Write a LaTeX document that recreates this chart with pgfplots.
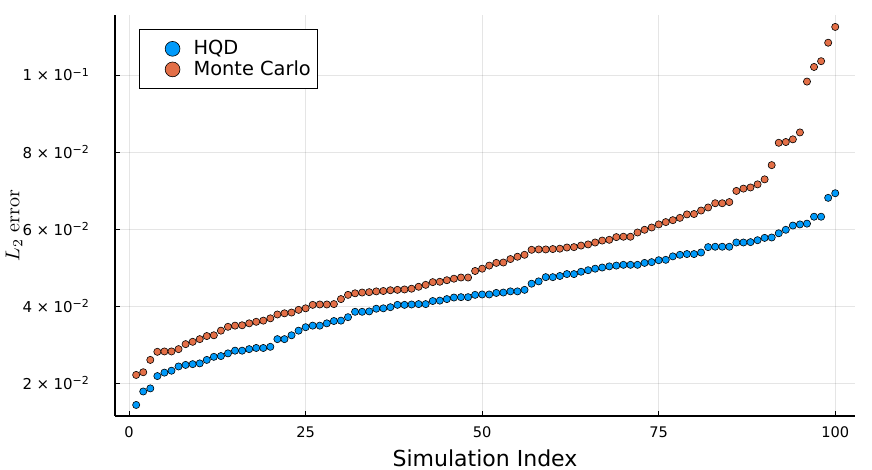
\documentclass[border=0pt]{standalone}
\usepackage[no-math]{fontspec}
\setmainfont{DejaVu Sans}
\usepackage{pgfplots}
\pgfplotsset{compat=1.18}
\usepackage{pgfplotstable}

\definecolor{juliablue}{RGB}{0,154,250}
\definecolor{juliaorange}{RGB}{227,111,71}

% tick label "a x 10^-b" in text font
\newcommand{\sci}[2]{#1\hspace{2.2pt}×\hspace{2.2pt}10\raisebox{0.5ex}{\fontsize{5.5}{6}\selectfont −#2}}

% sorted L2 errors, one row per simulation
\pgfplotstableread{
idx hqd mc
1 0.0143 0.0221
2 0.0178 0.0228
3 0.0186 0.0260
4 0.0218 0.0281
5 0.0227 0.0282
6 0.0232 0.0282
7 0.0243 0.0288
8 0.0247 0.0301
9 0.0249 0.0307
10 0.0251 0.0314
11 0.0260 0.0322
12 0.0268 0.0324
13 0.0270 0.0336
14 0.0277 0.0346
15 0.0284 0.0349
16 0.0284 0.0350
17 0.0288 0.0355
18 0.0291 0.0359
19 0.0291 0.0362
20 0.0294 0.0368
21 0.0314 0.0378
22 0.0314 0.0381
23 0.0324 0.0383
24 0.0336 0.0390
25 0.0345 0.0394
26 0.0349 0.0403
27 0.0349 0.0404
28 0.0355 0.0404
29 0.0361 0.0405
30 0.0362 0.0418
31 0.0371 0.0429
32 0.0385 0.0433
33 0.0385 0.0435
34 0.0386 0.0436
35 0.0393 0.0438
36 0.0394 0.0439
37 0.0397 0.0441
38 0.0403 0.0442
39 0.0403 0.0443
40 0.0404 0.0445
41 0.0405 0.0450
42 0.0405 0.0455
43 0.0413 0.0462
44 0.0414 0.0463
45 0.0418 0.0467
46 0.0422 0.0471
47 0.0423 0.0474
48 0.0423 0.0474
49 0.0429 0.0491
50 0.0430 0.0497
51 0.0430 0.0505
52 0.0434 0.0512
53 0.0435 0.0513
54 0.0438 0.0522
55 0.0438 0.0528
56 0.0442 0.0533
57 0.0458 0.0546
58 0.0464 0.0547
59 0.0475 0.0547
60 0.0475 0.0548
61 0.0478 0.0549
62 0.0483 0.0552
63 0.0483 0.0553
64 0.0489 0.0557
65 0.0493 0.0560
66 0.0497 0.0565
67 0.0500 0.0570
68 0.0503 0.0572
69 0.0505 0.0579
70 0.0507 0.0580
71 0.0507 0.0580
72 0.0507 0.0591
73 0.0512 0.0598
74 0.0514 0.0604
75 0.0519 0.0612
76 0.0520 0.0618
77 0.0529 0.0623
78 0.0533 0.0629
79 0.0535 0.0638
80 0.0535 0.0639
81 0.0539 0.0648
82 0.0553 0.0656
83 0.0554 0.0667
84 0.0554 0.0667
85 0.0554 0.0670
86 0.0565 0.0699
87 0.0565 0.0705
88 0.0566 0.0708
89 0.0571 0.0716
90 0.0577 0.0729
91 0.0578 0.0766
92 0.0589 0.0824
93 0.0598 0.0826
94 0.0609 0.0833
95 0.0612 0.0851
96 0.0614 0.0983
97 0.0632 0.1021
98 0.0632 0.1036
99 0.0681 0.1084
100 0.0693 0.1125
}\errtable

\begin{document}
\begin{tikzpicture}
\path[use as bounding box] (-57.5pt,-27pt) rectangle (378.5pt,208pt);
\begin{axis}[
    scale only axis,
    width=370pt, height=200.5pt,
    at={(0,0)}, anchor=south west,
    xmin=-2, xmax=102.8,
    ymin=0.01143, ymax=0.1156,
    axis lines*=left,
    axis line style={line width=0.7pt, -},
    tick align=inside,
    major tick length=2.5pt,
    tick style={black, line width=0.5pt},
    xtick={0,25,50,75,100},
    xticklabels={0,25,50,75,100},
    ytick={0.02,0.04,0.06,0.08,0.1},
    yticklabels={\sci{2}{2},\sci{4}{2},\sci{6}{2},\sci{8}{2},\sci{1}{1}},
    xticklabel style={font=\fontsize{7.3}{8}\selectfont, yshift=-2pt},
    yticklabel style={font=\fontsize{7.5}{9}\selectfont, xshift=-9.5pt},
    scaled y ticks=false,
    grid=major,
    grid style={black, opacity=0.1, line width=0.5pt},
    xlabel={Simulation Index},
    xlabel style={font=\fontsize{11}{12}\selectfont, at={(axis description cs:0.5,-0.105)}, anchor=center},
    ylabel={$L_2\ \mathrm{error}$},
    ylabel style={font=\fontsize{10}{12}\selectfont, at={(axis description cs:-0.1365,0.475)}, anchor=center, rotate=0},
    legend style={at={(axis description cs:0.0324,0.965)}, anchor=north west,
        draw=black, line width=0.6pt, font=\fontsize{9.7}{11}\selectfont,
        inner xsep=3pt, inner ysep=4.5pt, row sep=0pt, column sep=0pt,
        nodes={inner xsep=0.5pt, inner ysep=0.75pt}},
    legend cell align=left,
    legend image code/.code={
        \path[draw=none, fill=none] (0pt,0pt) rectangle (23.5pt,0pt);
        \draw[#1, mark size=3.7pt] plot coordinates {(13.5pt,0pt)};},
]
\addplot[only marks, mark=*, mark size=1.8pt, mark options={fill=juliablue, draw=black, line width=0.3pt}]
    table[x=idx, y=hqd] {\errtable};
\addlegendentry{HQD}
\addplot[only marks, mark=*, mark size=1.8pt, mark options={fill=juliaorange, draw=black, line width=0.3pt}]
    table[x=idx, y=mc] {\errtable};
\addlegendentry{Monte Carlo}
\end{axis}
\end{tikzpicture}
\end{document}
